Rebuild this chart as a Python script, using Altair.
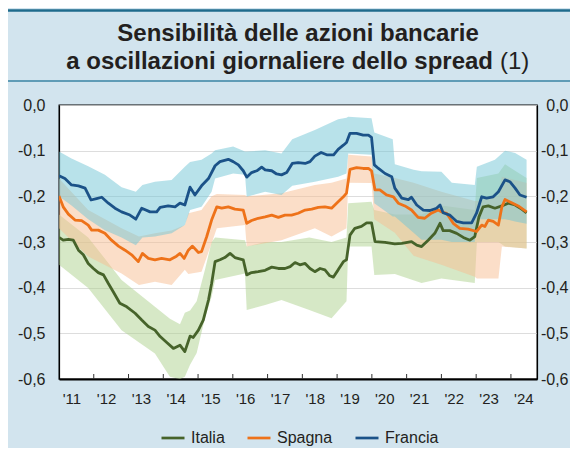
import altair as alt
import pandas as pd

# ---------------- data ----------------
series = ["Italia", "Spagna", "Francia"]

italia_line = [
    (2011.00, -0.290), (2011.12, -0.296), (2011.27, -0.294), (2011.41, -0.296), (2011.56, -0.318),
    (2011.70, -0.328), (2011.84, -0.347), (2011.99, -0.358), (2012.13, -0.367), (2012.28, -0.372),
    (2012.42, -0.391), (2012.56, -0.409), (2012.75, -0.434), (2012.95, -0.442), (2013.19, -0.456),
    (2013.38, -0.471), (2013.57, -0.485), (2013.76, -0.493), (2013.91, -0.507), (2014.10, -0.520),
    (2014.29, -0.533), (2014.48, -0.526), (2014.62, -0.540), (2014.77, -0.506), (2014.86, -0.509),
    (2015.01, -0.493), (2015.15, -0.471), (2015.30, -0.427), (2015.39, -0.391), (2015.49, -0.343),
    (2015.63, -0.339), (2015.77, -0.334), (2015.92, -0.325), (2016.06, -0.334), (2016.30, -0.339),
    (2016.40, -0.372), (2016.54, -0.367), (2016.73, -0.365), (2016.93, -0.362), (2017.12, -0.355),
    (2017.31, -0.358), (2017.50, -0.358), (2017.65, -0.354), (2017.79, -0.345), (2017.93, -0.350),
    (2018.08, -0.347), (2018.22, -0.358), (2018.36, -0.365), (2018.51, -0.358), (2018.65, -0.361),
    (2018.79, -0.374), (2018.89, -0.377), (2019.03, -0.361), (2019.18, -0.343), (2019.27, -0.339),
    (2019.37, -0.285), (2019.51, -0.270), (2019.70, -0.266), (2019.85, -0.258), (2019.99, -0.258),
    (2020.09, -0.299), (2020.38, -0.301), (2020.66, -0.304), (2020.86, -0.303), (2021.14, -0.299),
    (2021.29, -0.307), (2021.43, -0.310), (2021.62, -0.296), (2021.81, -0.281), (2021.96, -0.259),
    (2022.05, -0.275), (2022.24, -0.275), (2022.44, -0.281), (2022.63, -0.290), (2022.82, -0.296),
    (2022.96, -0.288), (2023.08, -0.245), (2023.20, -0.223), (2023.35, -0.221), (2023.54, -0.226),
    (2023.74, -0.221), (2023.92, -0.215), (2024.12, -0.219), (2024.31, -0.228), (2024.45, -0.236),
]

spagna_line = [
    (2011.00, -0.199), (2011.12, -0.223), (2011.27, -0.239), (2011.46, -0.252), (2011.65, -0.253),
    (2011.84, -0.263), (2011.94, -0.274), (2012.13, -0.274), (2012.32, -0.281), (2012.51, -0.296),
    (2012.71, -0.309), (2012.90, -0.318), (2013.09, -0.328), (2013.28, -0.343), (2013.40, -0.325),
    (2013.57, -0.336), (2013.76, -0.339), (2013.95, -0.336), (2014.19, -0.339), (2014.38, -0.331),
    (2014.48, -0.325), (2014.60, -0.336), (2014.72, -0.318), (2014.84, -0.309), (2015.01, -0.323),
    (2015.10, -0.321), (2015.25, -0.288), (2015.39, -0.252), (2015.54, -0.223), (2015.68, -0.226),
    (2015.87, -0.223), (2016.06, -0.228), (2016.30, -0.230), (2016.40, -0.259), (2016.54, -0.253),
    (2016.73, -0.248), (2016.93, -0.245), (2017.12, -0.241), (2017.31, -0.246), (2017.50, -0.241),
    (2017.69, -0.241), (2017.88, -0.237), (2018.08, -0.230), (2018.27, -0.228), (2018.46, -0.224),
    (2018.65, -0.223), (2018.84, -0.226), (2019.03, -0.212), (2019.18, -0.201), (2019.27, -0.193),
    (2019.37, -0.141), (2019.56, -0.137), (2019.75, -0.139), (2019.90, -0.139), (2019.99, -0.144),
    (2020.09, -0.186), (2020.23, -0.186), (2020.42, -0.197), (2020.62, -0.201), (2020.76, -0.215),
    (2020.95, -0.221), (2021.14, -0.230), (2021.33, -0.246), (2021.52, -0.248), (2021.71, -0.237),
    (2021.91, -0.230), (2022.00, -0.234), (2022.15, -0.237), (2022.34, -0.259), (2022.53, -0.270),
    (2022.77, -0.272), (2023.01, -0.277), (2023.16, -0.263), (2023.25, -0.266), (2023.35, -0.252),
    (2023.49, -0.255), (2023.64, -0.263), (2023.74, -0.223), (2023.83, -0.207), (2024.02, -0.214),
    (2024.21, -0.221), (2024.45, -0.234),
]

francia_line = [
    (2011.00, -0.155), (2011.17, -0.161), (2011.36, -0.175), (2011.56, -0.177), (2011.75, -0.182),
    (2011.92, -0.208), (2012.08, -0.205), (2012.23, -0.202), (2012.42, -0.215), (2012.61, -0.226),
    (2012.80, -0.234), (2013.04, -0.241), (2013.21, -0.250), (2013.38, -0.226), (2013.62, -0.234),
    (2013.81, -0.234), (2013.91, -0.224), (2014.14, -0.221), (2014.34, -0.223), (2014.48, -0.215),
    (2014.62, -0.219), (2014.77, -0.180), (2014.91, -0.197), (2015.10, -0.177), (2015.30, -0.161),
    (2015.49, -0.133), (2015.63, -0.124), (2015.87, -0.119), (2016.01, -0.124), (2016.16, -0.131),
    (2016.30, -0.144), (2016.40, -0.158), (2016.54, -0.148), (2016.69, -0.144), (2016.83, -0.136),
    (2016.93, -0.142), (2017.12, -0.144), (2017.26, -0.151), (2017.40, -0.153), (2017.55, -0.148),
    (2017.71, -0.128), (2017.88, -0.126), (2018.08, -0.128), (2018.22, -0.124), (2018.36, -0.112),
    (2018.54, -0.104), (2018.70, -0.109), (2018.90, -0.109), (2019.03, -0.097), (2019.18, -0.088),
    (2019.27, -0.082), (2019.37, -0.062), (2019.56, -0.062), (2019.75, -0.066), (2019.90, -0.066),
    (2019.99, -0.071), (2020.07, -0.131), (2020.19, -0.139), (2020.38, -0.150), (2020.57, -0.157),
    (2020.66, -0.182), (2020.86, -0.204), (2021.05, -0.207), (2021.14, -0.202), (2021.29, -0.219),
    (2021.48, -0.230), (2021.67, -0.231), (2021.86, -0.226), (2021.96, -0.219), (2022.05, -0.236),
    (2022.24, -0.241), (2022.44, -0.255), (2022.63, -0.258), (2022.87, -0.258), (2023.01, -0.237),
    (2023.16, -0.201), (2023.30, -0.204), (2023.49, -0.201), (2023.64, -0.190), (2023.83, -0.164),
    (2023.97, -0.168), (2024.12, -0.182), (2024.26, -0.197), (2024.45, -0.202),
]

# confidence bands: (time, lower, upper)
italia_band = [
    (2011.00, -0.350, -0.240), (2011.84, -0.401, -0.290), (2012.80, -0.493, -0.383),
    (2013.76, -0.544, -0.442), (2014.19, -0.595, -0.468), (2014.48, -0.600, -0.480),
    (2014.62, -0.595, -0.455), (2014.77, -0.569, -0.450), (2014.96, -0.543, -0.430),
    (2015.20, -0.466, -0.360), (2015.39, -0.420, -0.300), (2015.49, -0.383, -0.290),
    (2016.35, -0.369, -0.296), (2016.40, -0.449, -0.310), (2016.93, -0.438, -0.300),
    (2017.40, -0.427, -0.300), (2018.20, -0.449, -0.290), (2018.84, -0.467, -0.300),
    (2019.27, -0.430, -0.290), (2019.32, -0.310, -0.215), (2019.99, -0.310, -0.212),
    (2020.07, -0.372, -0.230), (2020.66, -0.370, -0.240), (2021.43, -0.390, -0.240),
    (2022.00, -0.380, -0.220), (2022.96, -0.390, -0.230), (2023.02, -0.300, -0.160),
    (2023.64, -0.300, -0.150), (2023.83, -0.310, -0.130), (2024.45, -0.314, -0.160),
]

spagna_band = [
    (2011.00, -0.270, -0.161), (2011.84, -0.332, -0.230), (2012.80, -0.369, -0.270),
    (2013.30, -0.394, -0.288), (2013.76, -0.387, -0.281), (2014.24, -0.394, -0.275),
    (2014.62, -0.361, -0.263), (2014.72, -0.370, -0.237), (2015.10, -0.365, -0.230),
    (2015.39, -0.303, -0.200), (2015.54, -0.270, -0.195), (2016.35, -0.263, -0.197),
    (2016.40, -0.310, -0.200), (2017.40, -0.296, -0.193), (2018.36, -0.270, -0.175),
    (2018.84, -0.288, -0.170), (2019.27, -0.270, -0.161), (2019.32, -0.170, -0.109),
    (2019.99, -0.171, -0.113), (2020.07, -0.250, -0.150), (2020.66, -0.280, -0.160),
    (2021.20, -0.330, -0.170), (2022.00, -0.350, -0.190), (2022.96, -0.376, -0.210),
    (2023.02, -0.380, -0.210), (2023.64, -0.380, -0.200), (2023.74, -0.310, -0.157),
    (2024.45, -0.314, -0.171),
]

francia_band = [
    (2011.00, -0.200, -0.102), (2011.36, -0.220, -0.117), (2011.84, -0.250, -0.134),
    (2012.32, -0.274, -0.153), (2012.80, -0.290, -0.180), (2013.21, -0.307, -0.190),
    (2013.40, -0.290, -0.175), (2013.76, -0.288, -0.168), (2014.24, -0.281, -0.164),
    (2014.62, -0.263, -0.135), (2014.77, -0.230, -0.125), (2015.10, -0.223, -0.120),
    (2015.39, -0.190, -0.106), (2015.49, -0.161, -0.099), (2016.01, -0.150, -0.091),
    (2016.35, -0.153, -0.102), (2016.40, -0.201, -0.102), (2016.93, -0.190, -0.099),
    (2017.40, -0.197, -0.106), (2017.71, -0.177, -0.075), (2018.36, -0.168, -0.055),
    (2019.03, -0.157, -0.031), (2019.27, -0.150, -0.028), (2019.32, -0.106, -0.026),
    (2019.99, -0.109, -0.029), (2020.07, -0.215, -0.060), (2020.60, -0.244, -0.075),
    (2020.66, -0.244, -0.130), (2021.20, -0.280, -0.142), (2021.43, -0.295, -0.145),
    (2022.00, -0.295, -0.146), (2022.30, -0.300, -0.170), (2022.96, -0.300, -0.175),
    (2023.02, -0.250, -0.135), (2023.54, -0.250, -0.120), (2023.83, -0.250, -0.100),
    (2024.12, -0.255, -0.105), (2024.45, -0.260, -0.120),
]

tick_years = list(range(2012, 2025))
label_years = list(range(2011, 2025))
y_ticks = [0.0, -0.1, -0.2, -0.3, -0.4, -0.5, -0.6]

# ---------------- tables ----------------
line_rows = []
for name, pts in zip(series, [italia_line, spagna_line, francia_line]):
    for t, v in pts:
        line_rows.append({"t": t, "v": v, "serie": name})
lines_df = pd.DataFrame(line_rows)

band_rows = []
for name, pts in zip(series, [italia_band, spagna_band, francia_band]):
    for t, lo, hi in pts:
        band_rows.append({"t": t, "lo": lo, "hi": hi, "banda": name})
bands_df = pd.DataFrame(band_rows)

one = pd.DataFrame({"k": [0]})

# ---------------- styling ----------------
FONT = "Liberation Sans"
TXT = "#231f20"
W, H = 478, 274
PAD = {"left": 51, "top": 97, "right": 33, "bottom": 69}
line_colors = ["#46632a", "#ee7219", "#1b5288"]          # Italia, Spagna, Francia
band_colors_sorted = ["#71c5d5", "#add18d", "#f7bd91"]   # Francia, Italia, Spagna (alphabetical)

xscale = alt.Scale(domain=[2011, 2024.75], nice=False, zero=False)
yscale = alt.Scale(domain=[-0.6, 0], nice=False, zero=False)

x_axis = alt.Axis(
    values=[y + 0.5 for y in label_years],
    labelExpr="\"'\" + format(floor(datum.value) - 2000, 'd')",
    ticks=False, tickSize=0, grid=False,
    domain=True, domainColor="black", domainWidth=2,
    labelPadding=12, labelOffset=-5, labelFontSize=15, labelFont=FONT,
    labelColor=TXT, title=None, labelFlush=False, labelOverlap=False,
)
ylabel = "(datum.value < -0.001 ? '-' : '') + replace(format(abs(datum.value), '.1f'), '.', ',')"
y_left = alt.Axis(
    values=y_ticks, labelExpr=ylabel, ticks=False, tickSize=0,
    grid=True, gridColor="#d4d4d4", gridWidth=0.8,
    domain=True, domainColor="black", domainWidth=1.2,
    labelPadding=14, labelFontSize=16, labelFont=FONT, labelColor=TXT,
    title=None, labelFlush=False, labelOverlap=False, orient="left",
)
y_right = alt.Axis(
    values=y_ticks, labelExpr=ylabel, ticks=False, tickSize=0, grid=False,
    domain=True, domainColor="black", domainWidth=1.2,
    labelPadding=31, labelAlign="right", labelFontSize=16, labelFont=FONT,
    labelColor=TXT, title=None, labelFlush=False, labelOverlap=False, orient="right",
)

bands = alt.Chart(bands_df).mark_area(fillOpacity=0.5, clip=True).encode(
    x=alt.X("t:Q", scale=xscale, axis=x_axis),
    y=alt.Y("lo:Q", scale=yscale, axis=y_left),
    y2="hi:Q",
    fill=alt.Fill("banda:N", scale=alt.Scale(range=band_colors_sorted), legend=None),
)

lines = alt.Chart(lines_df).mark_line(strokeWidth=2.8, clip=True, strokeJoin="round").encode(
    x=alt.X("t:Q", scale=xscale, axis=x_axis),
    y=alt.Y("v:Q", scale=yscale, axis=y_right),
    color=alt.Color(
        "serie:N",
        scale=alt.Scale(domain=series, range=line_colors),
        legend=alt.Legend(
            orient="none", legendX=101, legendY=320, direction="horizontal",
            title=None, symbolType="stroke", symbolSize=529, symbolStrokeWidth=2.7,
            labelFontSize=16, labelFont=FONT, labelColor=TXT, labelOffset=5,
            columnPadding=17, padding=0,
        ),
    ),
)

xticks = alt.Chart(pd.DataFrame({"year": tick_years})).mark_rule(color="#333333", strokeWidth=1).encode(
    x=alt.X("year:Q", scale=xscale, axis=x_axis),
    y=alt.value(H),
    y2=alt.value(H - 5),
)

rule_top = alt.Chart(one).mark_rule(color="#1e6b8c", strokeWidth=2.7).encode(
    x=alt.value(-PAD["left"]), x2=alt.value(W + PAD["right"]), y=alt.value(-94.5)
)
rule_mid = alt.Chart(one).mark_rule(color="#3a84a3", strokeWidth=1.3).encode(
    x=alt.value(-PAD["left"]), x2=alt.value(W + PAD["right"]), y=alt.value(-24)
)

title1 = alt.Chart(one).mark_text(
    text="Sensibilità delle azioni bancarie", font=FONT, fontSize=24,
    fontWeight="bold", color=TXT, align="center", baseline="alphabetic",
).encode(x=alt.value(239), y=alt.value(-64))
title2a = alt.Chart(one).mark_text(
    text="a oscillazioni giornaliere dello spread", font=FONT, fontSize=24,
    fontWeight="bold", color=TXT, align="right", baseline="alphabetic",
).encode(x=alt.value(434), y=alt.value(-36.5))
title2b = alt.Chart(one).mark_text(
    text="(1)", font=FONT, fontSize=24, fontWeight="normal", color=TXT,
    align="left", baseline="alphabetic",
).encode(x=alt.value(441), y=alt.value(-36.5))

chart = (
    alt.layer(bands, lines, xticks, rule_top, rule_mid, title1, title2a, title2b)
    .resolve_axis(y="independent")
    .properties(
        width=W, height=H,
        autosize=alt.AutoSizeParams(type="none"),
        padding=PAD,
        background="#d2e4ee",
    )
    .configure_view(fill="white", stroke="black", strokeWidth=1.3)
)

chart.save("out.html", embed_options={"renderer": "svg", "actions": False})
